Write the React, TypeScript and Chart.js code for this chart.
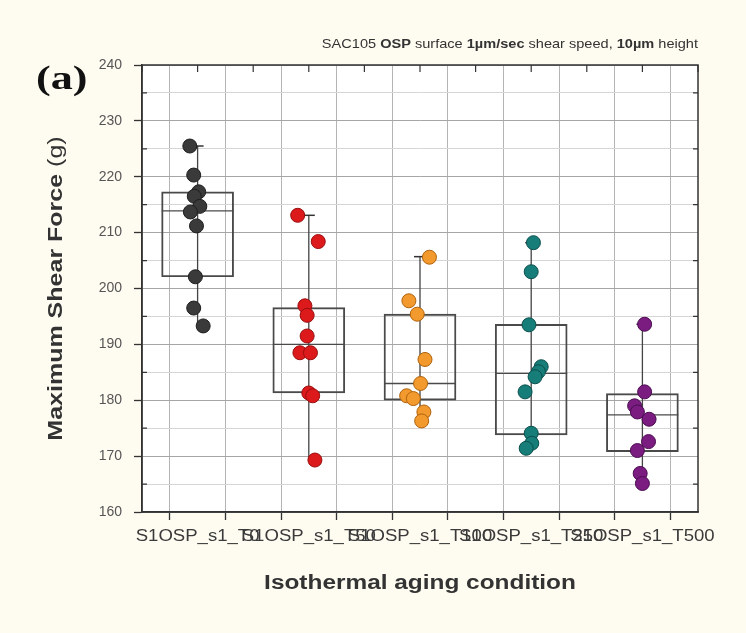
import React, { useEffect, useRef } from 'react';
import { Chart, registerables } from 'chart.js';

Chart.register(...registerables);

// ---------- data ----------
const categories = ['S1OSP_s1_T0', 'S1OSP_s1_T50', 'S1OSP_s1_T100', 'S1OSP_s1_T250', 'S1OSP_s1_T500'];

const t0Values = [225.5, 220.3, 217.3, 216.5, 214.7, 213.7, 211.2, 202.1, 196.5, 193.3];
const t0Jitter = [-0.07, -0.035, 0.01, -0.03, 0.02, -0.065, -0.01, -0.02, -0.035, 0.05];

const t50Values = [213.1, 208.4, 196.9, 195.2, 191.5, 188.5, 188.5, 181.3, 180.8, 169.3];
const t50Jitter = [-0.1, 0.085, -0.035, -0.015, -0.015, -0.08, 0.015, 0.0, 0.035, 0.055];

const t100Values = [205.6, 197.8, 195.4, 187.3, 183.0, 180.8, 180.3, 177.9, 176.3];
const t100Jitter = [0.085, -0.1, -0.025, 0.045, 0.005, -0.12, -0.06, 0.035, 0.015];

const t250Values = [208.2, 203.0, 193.5, 186.0, 185.1, 184.2, 181.5, 174.1, 172.3, 171.4];
const t250Jitter = [0.02, 0.0, -0.02, 0.09, 0.065, 0.035, -0.055, 0.0, 0.005, -0.045];

const t500Values = [193.6, 181.5, 179.0, 177.9, 176.6, 172.6, 171.0, 166.9, 165.1];
const t500Jitter = [0.02, 0.02, -0.07, -0.045, 0.06, 0.055, -0.045, -0.02, 0.0];

const boxQ1 = [202.1, 181.3, 180.0, 173.8, 170.8];
const boxMedian = [213.9, 190.0, 183.0, 184.8, 177.4];
const boxQ3 = [217.3, 196.6, 195.4, 193.6, 181.2];
const whiskerLow = [193.3, 169.3, 176.3, 171.4, 165.1];
const whiskerHigh = [225.5, 213.1, 205.7, 208.2, 193.6];

const yMin = 160;
const yMax = 240;
const yStep = 5;

const seriesValues = [t0Values, t50Values, t100Values, t250Values, t500Values];
const seriesJitter = [t0Jitter, t50Jitter, t100Jitter, t250Jitter, t500Jitter];
const fillColors = ['#3a3a3a', '#dc1a1c', '#f29a2e', '#177d78', '#7a1c80'];
const edgeColors = ['#1e1e1e', '#9a0d0d', '#b0620c', '#0c4f4c', '#4c0c52'];

const titleRuns: [string, boolean][] = [
  ['SAC105 ', false],
  ['OSP', true],
  [' surface ', false],
  ['1µm/sec', true],
  [' shear speed, ', false],
  ['10µm', true],
  [' height', false],
];

const FONT = 'Arial, "Liberation Sans", sans-serif';

// draw text stretched horizontally by sx, anchored by align
function stretchedText(ctx: any, text: string, x: number, y: number, sx: number, align: 'left' | 'center' | 'right') {
  const w = ctx.measureText(text).width * sx;
  let left = x;
  if (align === 'center') left = x - w / 2;
  if (align === 'right') left = x - w;
  ctx.save();
  ctx.translate(left, y);
  ctx.scale(sx, 1);
  ctx.textAlign = 'left';
  ctx.fillText(text, 0, 0);
  ctx.restore();
}

const decorPlugin = {
  id: 'decor',
  beforeDraw(chart: any) {
    const { ctx, chartArea: a, width, height } = chart;
    ctx.save();
    ctx.fillStyle = '#fefbf0';
    ctx.fillRect(0, 0, width, height);
    ctx.fillStyle = '#ffffff';
    ctx.fillRect(a.left, a.top, a.right - a.left, a.bottom - a.top);
    ctx.restore();
  },
  afterDraw(chart: any) {
    const { ctx, chartArea: a } = chart;
    const xs = chart.scales.x;
    const ys = chart.scales.y;
    ctx.save();
    // frame
    ctx.strokeStyle = '#333';
    ctx.lineWidth = 1.5;
    ctx.strokeRect(a.left, a.top, a.right - a.left, a.bottom - a.top);
    // top inward ticks
    ctx.lineWidth = 1.2;
    xs.ticks.forEach((t: any) => {
      const px = xs.getPixelForValue(t.value);
      ctx.beginPath();
      ctx.moveTo(px, a.top);
      ctx.lineTo(px, a.top + 7);
      ctx.stroke();
    });
    // minor y ticks pointing inward
    ys.ticks.forEach((t: any) => {
      if (t.value % 10 === 0) return;
      const py = ys.getPixelForValue(t.value);
      ctx.beginPath();
      ctx.moveTo(a.left, py);
      ctx.lineTo(a.left + 5, py);
      ctx.moveTo(a.right, py);
      ctx.lineTo(a.right - 5, py);
      ctx.stroke();
    });

    // category labels (stretched like the source)
    ctx.fillStyle = '#3a3a3a';
    ctx.textBaseline = 'middle';
    ctx.font = `16px ${FONT}`;
    categories.forEach((c, i) => {
      stretchedText(ctx, c, xs.getPixelForValue(i + 1), a.bottom + 25, 1.16, 'center');
    });

    // title with mixed weights, right aligned
    ctx.fillStyle = '#333';
    ctx.textBaseline = 'middle';
    const tSize = 13;
    const tsx = 1.12;
    let total = 0;
    titleRuns.forEach(([s, b]) => {
      ctx.font = `${b ? 'bold ' : ''}${tSize}px ${FONT}`;
      total += ctx.measureText(s).width * tsx;
    });
    let x = a.right - total;
    titleRuns.forEach(([s, b]) => {
      ctx.font = `${b ? 'bold ' : ''}${tSize}px ${FONT}`;
      stretchedText(ctx, s, x, 44, tsx, 'left');
      x += ctx.measureText(s).width * tsx;
    });

    // panel label
    ctx.font = 'bold 34px "Liberation Serif", "Times New Roman", serif';
    ctx.fillStyle = '#111';
    ctx.textBaseline = 'alphabetic';
    stretchedText(ctx, '(a)', 36, 89, 1.3, 'left');

    // y title
    ctx.save();
    ctx.translate(56, (a.top + a.bottom) / 2);
    ctx.rotate(-Math.PI / 2);
    ctx.fillStyle = '#333';
    ctx.textBaseline = 'middle';
    const ysx = 1.25;
    const p1 = 'Maximum Shear Force ';
    const p2 = '(g)';
    ctx.font = `bold 20px ${FONT}`;
    const w1 = ctx.measureText(p1).width * ysx;
    ctx.font = `20px ${FONT}`;
    const w2 = ctx.measureText(p2).width * ysx;
    const sx0 = -(w1 + w2) / 2;
    ctx.font = `bold 20px ${FONT}`;
    stretchedText(ctx, p1, sx0, 0, ysx, 'left');
    ctx.font = `20px ${FONT}`;
    stretchedText(ctx, p2, sx0 + w1, 0, ysx, 'left');
    ctx.restore();

    // x title
    ctx.font = `bold 20px ${FONT}`;
    ctx.fillStyle = '#333';
    ctx.textBaseline = 'middle';
    stretchedText(ctx, 'Isothermal aging condition', (a.left + a.right) / 2, 583, 1.22, 'center');
    ctx.restore();
  },
};

export default function App() {
  const ref = useRef<HTMLCanvasElement>(null);

  useEffect(() => {
    if (!ref.current) return;

    const pointSets = seriesValues.map((vals, i) => ({
      type: 'scatter' as const,
      label: categories[i],
      data: vals.map((v, j) => ({ x: i + 1 + seriesJitter[i][j], y: v })),
      backgroundColor: fillColors[i],
      borderColor: edgeColors[i],
      borderWidth: 1,
      pointRadius: 7,
      pointHoverRadius: 7,
      order: 0,
    }));

    const whiskerData: any[] = [];
    categories.forEach((_, i) => {
      whiskerData.push({ x: i + 1, y: whiskerLow[i] });
      whiskerData.push({ x: i + 1, y: whiskerHigh[i] });
      whiskerData.push({ x: i + 1, y: null });
    });

    const chart = new Chart(ref.current, {
      type: 'scatter',
      data: {
        datasets: [
          ...pointSets,
          {
            type: 'scatter' as const,
            label: 'median',
            data: boxMedian.map((v, i) => ({ x: i + 1, y: v })),
            pointStyle: 'line',
            pointRadius: 36,
            borderColor: '#4a4a4a',
            borderWidth: 1.3,
            order: 2,
          } as any,
          {
            type: 'scatter' as const,
            label: 'caps',
            data: whiskerHigh.map((v, i) => ({ x: i + 1, y: v })),
            pointStyle: 'line',
            pointRadius: 6,
            borderColor: '#333',
            borderWidth: 1.5,
            order: 2,
          } as any,
          {
            type: 'line' as const,
            label: 'whisker',
            data: whiskerData,
            borderColor: '#444',
            borderWidth: 1.3,
            pointRadius: 0,
            spanGaps: false,
            order: 3,
          } as any,
          {
            type: 'bar' as const,
            label: 'box',
            data: boxQ1.map((q, i) => ({ x: i + 1, y: [q, boxQ3[i]] })),
            backgroundColor: 'rgba(255,255,255,0)',
            borderColor: '#4a4a4a',
            borderWidth: 1.3,
            borderSkipped: false,
            barThickness: 72,
            order: 4,
          } as any,
        ],
      },
      options: {
        animation: false,
        responsive: false,
        devicePixelRatio: 1,
        layout: { padding: { left: 82, right: 48, top: 65, bottom: 76 } },
        plugins: {
          legend: { display: false },
          tooltip: { enabled: false },
          title: { display: false },
        },
        scales: {
          x: {
            type: 'linear',
            min: 0.5,
            max: 5.5,
            offset: false,
            afterFit: (s: any) => { s.height = 45; },
            ticks: {
              display: false,
              stepSize: 0.5,
              autoSkip: false,
              maxRotation: 0,
              minRotation: 0,
            },
            grid: {
              color: '#b4b4b4',
              lineWidth: 1,
              tickLength: 8,
              tickColor: '#333',
              tickWidth: 1.3,
            },
            border: { display: true, color: '#333', width: 1.5 },
          },
          y: {
            type: 'linear',
            min: yMin,
            max: yMax,
            afterFit: (s: any) => { s.width = 60; },
            ticks: {
              stepSize: yStep,
              autoSkip: false,
              padding: 12,
              color: '#555',
              font: { size: 14, family: FONT },
              callback: (v: any) => (Number(v) % 10 === 0 ? String(v) : ''),
            },
            grid: {
              color: (c: any) => (c.tick && c.tick.value % 10 === 0 ? '#a6a6a6' : '#d6d6d6'),
              lineWidth: 1,
              tickLength: 8,
              tickColor: (c: any) => (c.tick && c.tick.value % 10 === 0 ? '#333' : 'rgba(0,0,0,0)'),
              tickWidth: 1.3,
            },
            border: { display: true, color: '#333', width: 1.5 },
          },
        },
      },
      plugins: [decorPlugin],
    } as any);

    return () => chart.destroy();
  }, []);

  return (
    <div style={{ position: 'absolute', left: 0, top: 0, width: 746, height: 633, background: '#fefbf0' }}>
      <canvas ref={ref} width={746} height={633} style={{ display: 'block' }} />
    </div>
  );
}
